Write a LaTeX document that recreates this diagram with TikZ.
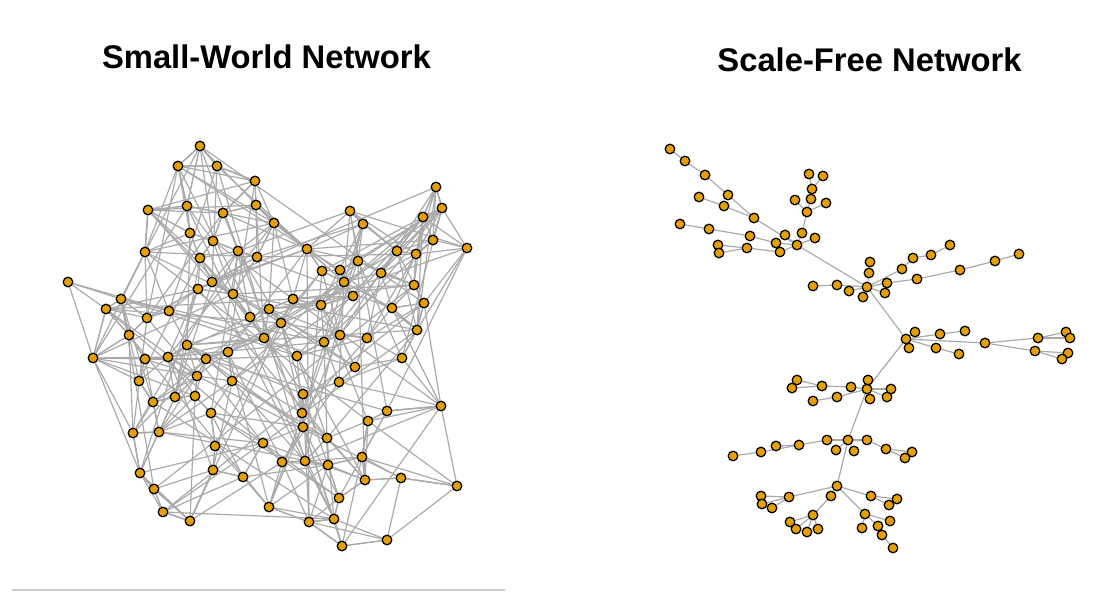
\documentclass[tikz,border=0pt]{standalone}
\usepackage{fontspec}
\setmainfont{Liberation Sans}
\usetikzlibrary{backgrounds}

\definecolor{nodeorange}{RGB}{230,159,0}
\definecolor{edgegray}{RGB}{170,170,170}

\tikzset{
  vertexdot/.style={circle,draw=black,line width=0.9pt,fill=nodeorange,
    inner sep=0pt,minimum size=0.24cm},
  netedge/.style={draw=edgegray,line width=0.85pt},
  plottitle/.style={anchor=base,font=\bfseries\fontsize{23.3}{28}\selectfont}
}

\begin{document}
\begin{tikzpicture}[x=0.025cm,y=-0.025cm]
\useasboundingbox (0,0) rectangle (1101,603);

% Titles
\node[plottitle] (swtitle) at (266.5,69) {Small-World Network};
\node[plottitle] (sftitle) at (869.5,72) {Scale-Free Network};

% Small-world vertices
\foreach \x/\y [count=\k] in {
  200/146, 178/166, 217/166, 255/181, 256/205, 148/210, 187/206, 223/213, 190/233, 213/241,
  238/251, 257/257, 200/258, 145/252, 68/282, 212/282, 198/289, 233/294, 121/299, 106/309,
  169/311, 147/318, 250/317, 269/309, 129/335, 264/338, 187/345, 436/187, 442/208, 423/217,
  350/211, 363/224, 274/223, 433/240, 467/248, 397/251, 416/254, 307/249, 358/261, 322/271,
  340/270, 344/282, 381/273, 414/285, 424/303, 392/308, 353/296, 293/299, 321/305, 281/323,
  417/330, 324/342, 340/335, 367/338, 228/352, 93/358, 145/359, 168/357, 206/359, 197/376,
  232/381, 139/381, 175/397, 195/396, 153/402, 211/413, 133/433, 159/432, 215/446, 263/443,
  140/473, 213/470, 243/477, 154/489, 269/507, 163/512, 190/521, 297/356, 402/358, 355/367,
  339/382, 303/394, 441/406, 387/411, 302/413, 368/421, 303/427, 327/438, 282/462, 305/461,
  328/465, 362/457, 365/480, 401/478, 457/486, 339/498, 334/519, 309/522, 387/540, 342/546}
  \node[vertexdot] (w\k) at (\x,\y) {};

% Small-world links, pass 1: every vertex keeps its three nearest
% neighbours and sums a distance weight for pass 2
\begin{pgfonlayer}{background}
\foreach \i in {1,...,100}{
  \xdef\wsum{0}
  \xdef\dA{9999}\xdef\dB{9999}\xdef\dC{9999}
  \xdef\iA{\i}\xdef\iB{\i}\xdef\iC{\i}
  \foreach \j in {1,...,100}{
    \ifnum\i=\j\relax\else
      \pgfpointdiff{\pgfpointanchor{w\i}{center}}{\pgfpointanchor{w\j}{center}}
      \pgfgetlastxy\dx\dy
      \pgfmathsetmacro\dist{veclen(\dx,\dy)}
      \pgfmathsetmacro\tmp{\wsum + exp(-\dist/39)}
      \xdef\wsum{\tmp}
      \ifdim\dist pt<\dA pt
        \xdef\dC{\dB}\xdef\iC{\iB}\xdef\dB{\dA}\xdef\iB{\iA}\xdef\dA{\dist}\xdef\iA{\j}
      \else\ifdim\dist pt<\dB pt
        \xdef\dC{\dB}\xdef\iC{\iB}\xdef\dB{\dist}\xdef\iB{\j}
      \else\ifdim\dist pt<\dC pt
        \xdef\dC{\dist}\xdef\iC{\j}
      \fi\fi\fi
    \fi
  }
  \expandafter\xdef\csname wsum\i\endcsname{\wsum}
  \draw[netedge] (w\i) -- (w\iA) (w\i) -- (w\iB) (w\i) -- (w\iC);
}

% pass 2: random extra links, shorter ones far more likely
\pgfmathsetseed{2718}
\foreach \i in {1,...,99}{
  \pgfmathtruncatemacro\first{\i+1}
  \foreach \j in {\first,...,100}{
    \edef\si{\csname wsum\i\endcsname}
    \edef\sj{\csname wsum\j\endcsname}
    \pgfpointdiff{\pgfpointanchor{w\i}{center}}{\pgfpointanchor{w\j}{center}}
    \pgfgetlastxy\dx\dy
    \pgfmathtruncatemacro\keep{rnd < 6*exp(-veclen(\dx,\dy)/42)/sqrt(\si*\sj)}
    \ifnum\keep=1 \draw[netedge] (w\i) -- (w\j); \fi
  }
}
\end{pgfonlayer}

% Scale-free vertices (hubs first)
\foreach \x/\y [count=\k] in {
  797/245, 867/287, 906/339, 867/389, 848/440, 837/486,
  670/149, 685/161, 705/175, 728/195, 754/218, 699/197, 724/206, 680/224, 709/229,
  750/236, 776/243, 780/252, 747/248, 718/245, 719/253, 785/235, 802/233, 815/238,
  807/212, 795/200, 811/199, 826/203, 812/189, 809/174, 823/176,
  870/262, 869/273, 887/283, 885/293, 863/297, 849/291, 837/285, 813/286, 902/269,
  913/258, 931/255, 950/245, 917/279, 960/270, 995/261, 1019/254,
  915/332, 940/334, 965/331, 909/348, 936/348, 959/354, 985/343, 1038/338, 1066/332,
  1070/338, 1035/351, 1068/353, 1062/359,
  797/380, 792/388, 822/386, 851/387, 868/380, 891/389, 887/397, 870/399, 837/397, 813/401,
  827/440, 799/445, 776/446, 761/452, 733/456, 867/440, 836/450, 854/451, 886/449, 912/452,
  905/458,
  831/496, 789/497, 761/496, 762/504, 772/508, 813/515, 790/522, 796/529, 807/532, 818/529,
  871/496, 897/499, 889/505, 865/514, 890/521, 878/526, 882/535, 893/548, 862/528}
  \node[vertexdot] (s\k) at (\x,\y) {};

% Scale-free tree edges
\begin{pgfonlayer}{background}
\foreach \a/\b in {
  1/2, 2/3, 3/4, 4/5, 5/6,
  7/8, 8/9, 9/10, 10/11, 11/1, 12/13, 13/11, 14/15, 15/16, 16/17, 17/1, 20/19, 21/19,
  19/18, 18/1, 22/1, 23/1, 24/1, 25/23, 26/25, 27/25, 28/25, 29/27, 30/29, 31/29,
  2/33, 33/32, 2/34, 2/35, 2/36, 2/37, 2/38, 38/39, 2/40, 40/41, 41/42, 42/43,
  34/44, 44/45, 45/46, 46/47,
  3/48, 3/49, 49/50, 3/51, 3/52, 52/53, 3/54, 54/55, 55/56, 55/57, 54/58, 58/59, 58/60,
  4/64, 64/63, 63/61, 63/62, 4/65, 4/66, 4/67, 4/68, 4/69, 69/70,
  5/71, 71/72, 72/73, 72/74, 74/75, 5/76, 76/79, 79/80, 79/81, 5/77, 5/78,
  6/82, 6/83, 83/84, 83/85, 83/86, 82/87, 87/88, 87/89, 87/90, 87/91,
  6/92, 92/93, 92/94, 6/95, 95/96, 95/97, 97/98, 98/99, 95/100}
  \draw[netedge] (s\a) -- (s\b);
\end{pgfonlayer}

% Rule under the left panel
\draw[draw=black!20,line width=0.8pt] (12,590) -- (505,590);

\end{tikzpicture}
\end{document}
